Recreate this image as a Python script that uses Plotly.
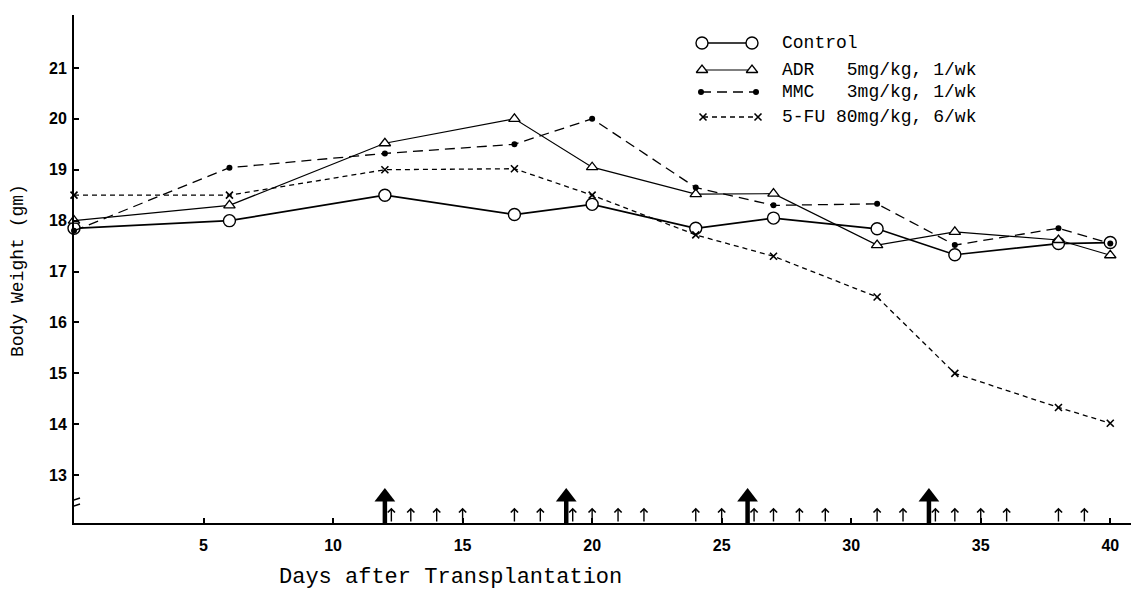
import plotly.graph_objects as go

# ---------------- data ----------------
days = [0, 6, 12, 17, 20, 24, 27, 31, 34, 38, 40]
control = [17.85, 18.0, 18.5, 18.12, 18.32, 17.85, 18.05, 17.84, 17.33, 17.55, 17.57]
adr = [18.0, 18.3, 19.52, 20.0, 19.05, 18.52, 18.53, 17.52, 17.78, 17.62, 17.32]
mmc = [17.8, 19.04, 19.32, 19.5, 20.0, 18.65, 18.3, 18.33, 17.52, 17.85, 17.55]
fu = [18.5, 18.5, 19.0, 19.02, 18.5, 17.72, 17.3, 16.5, 15.0, 14.33, 14.02]

x_ticks = [5, 10, 15, 20, 25, 30, 35, 40]
y_ticks = [13, 14, 15, 16, 17, 18, 19, 20, 21]

big_dose_days = [12, 19, 26, 33]
small_dose_days = [12.25, 13, 14, 15, 17, 18, 19.25, 20, 21, 22, 24, 25,
                   26.25, 27, 28, 29, 31, 32, 33.25, 34, 35, 36, 38, 39]

legend_labels = ["Control",
                 "ADR\u00a0\u00a0\u00a05mg/kg, 1/wk",
                 "MMC\u00a0\u00a0\u00a03mg/kg, 1/wk",
                 "5-FU 80mg/kg, 6/wk"]

# ---------------- styles ----------------
Y_MIN, Y_MAX = 12.06, 22.04
X_MIN, X_MAX = 0, 40.8
MONO = "Liberation Mono, Courier New, monospace"
SANS = "Liberation Sans, Arial, sans-serif"

styles = [
    dict(line=dict(color="black", width=1.7, dash="solid"),
         marker=dict(symbol="circle", size=12, color="white",
                     line=dict(color="black", width=1.4))),
    dict(line=dict(color="black", width=1.2, dash="solid"),
         marker=dict(symbol="triangle-up", size=10, color="white",
                     line=dict(color="black", width=1.3))),
    dict(line=dict(color="black", width=1.3, dash="10px,6px"),
         marker=dict(symbol="circle", size=6, color="black",
                     line=dict(color="black", width=0))),
    dict(line=dict(color="black", width=1.3, dash="5px,4px"),
         marker=dict(symbol="x-thin-open", size=7, color="black",
                     line=dict(color="black", width=1.6))),
]
series = [control, adr, mmc, fu]

fig = go.Figure()

for vals, st in zip(series, styles):
    fig.add_trace(go.Scatter(x=days, y=vals, mode="lines+markers",
                             line=st["line"], marker=st["marker"],
                             cliponaxis=False, showlegend=False,
                             hoverinfo="skip"))

# big arrows (ADR/MMC weekly doses): shafts + heads
shaft_x, shaft_y = [], []
for d in big_dose_days:
    shaft_x += [d, d, None]
    shaft_y += [Y_MIN, 12.5, None]
fig.add_trace(go.Scatter(x=shaft_x, y=shaft_y, mode="lines",
                         line=dict(color="black", width=4.5),
                         cliponaxis=False, showlegend=False, hoverinfo="skip"))
fig.add_trace(go.Scatter(x=big_dose_days, y=[12.57] * len(big_dose_days),
                         mode="markers",
                         marker=dict(symbol="triangle-up", size=18, color="black",
                                     line=dict(width=0)),
                         cliponaxis=False, showlegend=False, hoverinfo="skip"))

annotations = []
# small arrows (5-FU doses)
for d in small_dose_days:
    annotations.append(dict(x=d, y=12.36, ax=d, ay=Y_MIN, xref="x", yref="y",
                            axref="x", ayref="y", text="", showarrow=True,
                            arrowhead=4, arrowsize=1.0, arrowwidth=1.4,
                            arrowcolor="black", standoff=0, startstandoff=0))

# custom legend drawn on a pixel-space overlay axis
leg_rows_y = [43, 70, 92, 117]
leg_x0 = [702, 702, 701, 703]
leg_x1 = [752, 752, 756, 758]
for i, st in enumerate(styles):
    fig.add_trace(go.Scatter(x=[leg_x0[i], leg_x1[i]], y=[leg_rows_y[i]] * 2,
                             xaxis="x2", yaxis="y2", mode="lines+markers",
                             line=st["line"], marker=st["marker"],
                             cliponaxis=False, showlegend=False, hoverinfo="skip"))
    annotations.append(dict(x=780, y=leg_rows_y[i], xref="x2", yref="y2",
                            text=legend_labels[i], showarrow=False,
                            xanchor="left", yanchor="middle",
                            font=dict(family=MONO, size=18, color="black")))

# axis titles
annotations.append(dict(x=(277 - 74) / 1057, y=-0.108, xref="paper", yref="paper",
                        text="Days after Transplantation", showarrow=False,
                        xanchor="left", yanchor="middle",
                        font=dict(family=MONO, size=22, color="black")))
annotations.append(dict(x=-0.053, y=0.498, xref="paper", yref="paper",
                        text="Body Weight (gm)", showarrow=False, textangle=-90,
                        xanchor="center", yanchor="middle",
                        font=dict(family=MONO, size=18, color="black")))

# axis break on the y axis
shapes = [
    dict(type="rect", xref="x2", yref="y2", x0=70, x1=79, y0=500, y1=506,
         fillcolor="white", line=dict(width=0), layer="above"),
    dict(type="line", xref="x2", yref="y2", x0=68, x1=80, y0=502, y1=498,
         line=dict(color="black", width=1.6), layer="above"),
    dict(type="line", xref="x2", yref="y2", x0=68, x1=80, y0=508, y1=504,
         line=dict(color="black", width=1.6), layer="above"),
]

tick_font = dict(family=SANS, size=16, color="black", weight="bold")

fig.update_layout(
    width=1134, height=593,
    margin=dict(l=74, r=3, t=15, b=70),
    paper_bgcolor="white", plot_bgcolor="white",
    showlegend=False,
    xaxis=dict(range=[X_MIN, X_MAX], tickvals=x_ticks,
               ticktext=[str(t) for t in x_ticks],
               showline=True, linecolor="black", linewidth=2,
               ticks="inside", ticklen=5, tickwidth=1.5, tickcolor="black",
               showgrid=False, zeroline=False, ticklabelstandoff=7,
               tickfont=tick_font),
    yaxis=dict(range=[Y_MIN, Y_MAX], tickvals=y_ticks,
               ticktext=[str(t) for t in y_ticks],
               showline=True, linecolor="black", linewidth=2,
               ticks="inside", ticklen=5, tickwidth=1.5, tickcolor="black",
               showgrid=False, zeroline=False, ticklabelstandoff=2,
               tickfont=tick_font),
    xaxis2=dict(range=[74, 1131], overlaying="x", anchor="y2", visible=False),
    yaxis2=dict(range=[523, 15], overlaying="y", anchor="x2", visible=False),
    annotations=annotations,
    shapes=shapes,
)

fig.write_html("out.html")
